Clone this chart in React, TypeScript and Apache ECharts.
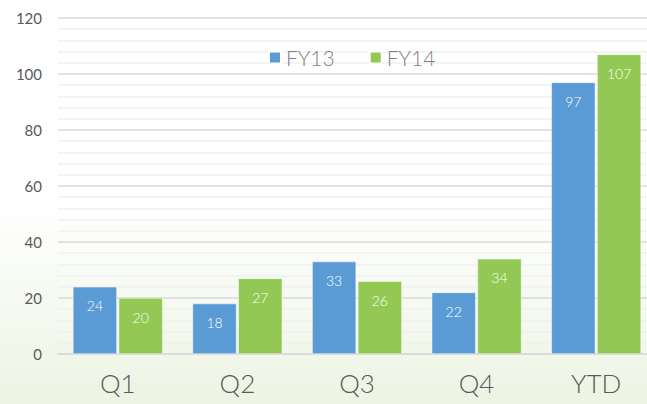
import React, { useEffect, useRef } from "react";
import * as echarts from "echarts";

const categories = ["Q1", "Q2", "Q3", "Q4", "YTD"];
const fy13 = [24, 18, 33, 22, 97];
const fy14 = [20, 27, 26, 34, 107];
const seriesNames = ["FY13", "FY14"];

export default function App() {
  const ref = useRef<HTMLDivElement>(null);
  useEffect(() => {
    const chart = echarts.init(ref.current!, null, { renderer: "svg" });
    const label = {
      show: true,
      position: "insideTop",
      distance: 12,
      color: "#ffffff",
      fontSize: 14,
      fontFamily: "Lato",
      fontWeight: 300,
    };
    chart.setOption({
      animation: false,
      backgroundColor: new echarts.graphic.LinearGradient(0, 0, 0, 1, [
        { offset: 0, color: "#ffffff" },
        { offset: 0.5, color: "#ffffff" },
        { offset: 1, color: "#edf4e3" },
      ]),
      legend: {
        top: 42,
        left: 263,
        itemWidth: 12,
        itemHeight: 12,
        itemGap: 34,
        itemTextGap: 5,
        icon: "rect",
        textStyle: { fontSize: 21, color: "#7f7f7f", fontFamily: "Lato", fontWeight: 300 },
        data: seriesNames,
      },
      grid: { left: 58, right: 0, top: 18, bottom: 50, containLabel: false },
      xAxis: {
        type: "category",
        data: categories,
        axisLine: { lineStyle: { color: "#d9d9d9", width: 1.5 } },
        axisTick: { show: false },
        axisLabel: { fontSize: 26, color: "#595959", margin: 16, fontFamily: "Lato", fontWeight: 300 },
      },
      yAxis: {
        type: "value",
        min: 0,
        max: 120,
        interval: 20,
        axisLine: { show: false },
        axisTick: { show: false },
        axisLabel: { fontSize: 15, color: "#595959", margin: 16, fontFamily: "Lato" },
        splitLine: { lineStyle: { color: "#d9d9d9", width: 1.5 } },
        minorTick: { show: false, splitNumber: 5 },
        minorSplitLine: { show: true, lineStyle: { color: "#f0f0f0", width: 1.5 } },
      },
      series: [
        {
          name: seriesNames[0],
          type: "bar",
          data: fy13,
          barWidth: 44,
          barGap: "4%",
          itemStyle: { color: "#5b9bd5", borderColor: "#ffffff", borderWidth: 0.5 },
          label,
        },
        {
          name: seriesNames[1],
          type: "bar",
          data: fy14,
          barWidth: 44,
          itemStyle: { color: "#92c853", borderColor: "#ffffff", borderWidth: 0.5 },
          label,
        },
      ],
    });
    return () => chart.dispose();
  }, []);
  return (
    <div style={{ width: 647, height: 404, position: "absolute", left: 0, top: 0, overflow: "hidden" }}>
      <div ref={ref} style={{ width: 656, height: 404 }} />
    </div>
  );
}
